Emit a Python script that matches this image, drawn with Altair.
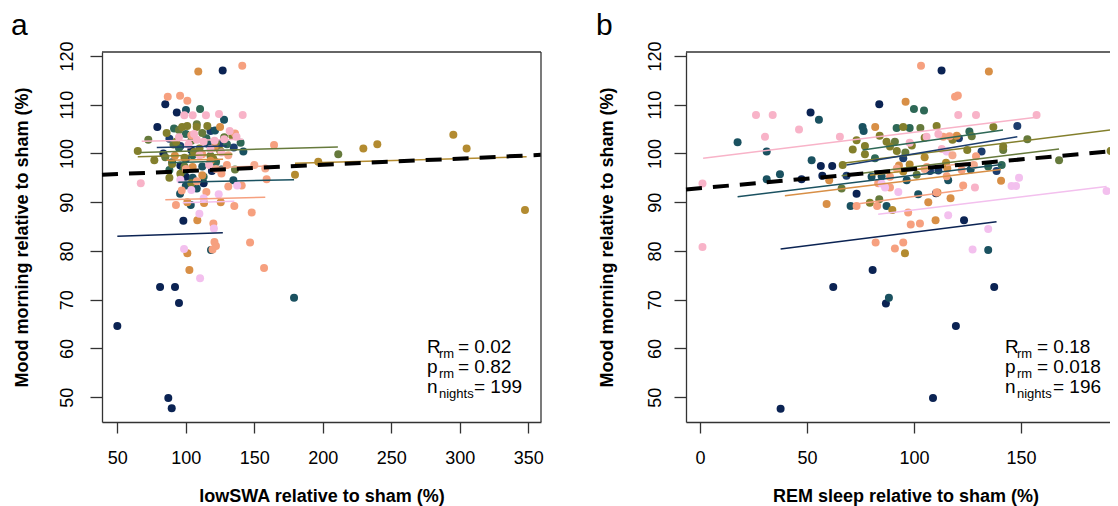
import altair as alt
import pandas as pd

FONT = "Liberation Sans"

# ---------------- subjects & colours ----------------
subjects = ["S01", "S02", "S03", "S04", "S05", "S06", "S07", "S08", "S09", "S10", "S11", "S12"]
subject_colors = ["#0b2353", "#1c3d6e", "#1a5160", "#2e6856", "#667a3c", "#837f2c",
                  "#b38b30", "#d88f46", "#f6a07f", "#f8b3c8", "#f3c0ee", "#f5a98e"]

# ---------------- panel a: lowSWA (%) vs mood (%) ----------------
a_S01_x = [50, 87.2, 89.7, 81.2, 92.1, 95, 85, 93.4, 126.9, 79.2, 83.6, 98.2, 96, 100, 119, 113, 104]
a_S01_y = [64.6, 49.8, 47.7, 72.6, 72.6, 69.3, 110.1, 108.4, 117, 105.4, 100, 86.2, 97.5, 95.2, 96.4, 93.9, 100.7]
a_S02_x = [96, 110, 125, 100, 135, 88, 118]
a_S02_y = [101.5, 100.3, 102.1, 98.8, 101.2, 103, 104.6]
a_S03_x = [100.1, 127.9, 121.3, 142, 95.8, 103.6, 179, 118.4, 105, 112, 126, 134.7, 90, 108, 100, 116]
a_S03_y = [108.9, 106.9, 104.7, 100.4, 91.7, 89.4, 70.4, 80.2, 95, 97.3, 96.7, 94.5, 98.2, 92.8, 93.4, 102]
a_S04_x = [110.4, 91.4, 100, 115, 130, 105, 122, 95, 140, 88, 98, 113]
a_S04_y = [109.1, 105.1, 104, 103.1, 101.9, 99.6, 98.2, 101.1, 102.2, 96.6, 96.4, 95.2]
a_S05_x = [211.3, 72.6, 135.9, 91, 104, 118, 112, 99, 128, 85, 95, 108, 122]
a_S05_y = [99.8, 102.8, 96.7, 101.8, 102.6, 99.5, 104.2, 97.3, 103.3, 99.2, 104.8, 106, 102.2]
a_S06_x = [97.3, 101, 107.9, 115.7, 64.9, 77, 90, 96, 104, 120, 110, 134, 125, 86, 93, 106, 99, 88]
a_S06_y = [105.4, 105.6, 105.4, 105.6, 100.5, 98.6, 97.8, 95.8, 93.9, 98.9, 101, 103.6, 100.6, 104.2, 102.4, 100.3, 99.1, 95]
a_S07_x = [179.7, 196.7, 229.6, 239.8, 295.3, 305, 347.6]
a_S07_y = [95.6, 98.3, 101, 101.9, 103.8, 101, 88.4]
a_S08_x = [109.1, 125, 113.3, 108.4, 101.1, 125.5, 101.1, 102.6, 92, 105, 118, 121, 112]
a_S08_y = [116.8, 105.4, 89.8, 86.3, 90, 90, 79.5, 76.1, 99.5, 97.2, 98.5, 101.2, 95.5]
a_S09_x = [141.2, 86.8, 95.8, 101.1, 135.9, 164.4, 159, 140.8, 92.8, 135.4, 148.1, 120.1, 146.9,
           120.9, 122, 119.5, 157.1, 100, 108, 115, 126, 131, 97, 112, 104, 130]
a_S09_y = [118, 111.6, 111.8, 110.8, 104.1, 101.7, 94.7, 93.4, 89.4, 89.2, 87.9, 85.6, 81.7,
           81.8, 81, 80.3, 76.5, 96.8, 94.3, 92.1, 95.9, 93.2, 92.4, 99.8, 103.7, 97.6]
a_S10_x = [98.9, 105, 114.7, 124.2, 141.5, 67.1, 106, 113, 121, 128, 137, 118, 108,
           102, 110, 126, 132, 95, 117]
a_S10_y = [107.8, 107.8, 107.8, 108.1, 107.9, 93.9, 104, 102.4, 102.6, 102.9, 103.4, 100.9, 102.8,
           101.8, 99.6, 100.2, 104.6, 103.3, 97.6]
a_S11_x = [137.5, 109.9, 120.5, 98.7, 110.4, 104, 96, 113, 124]
a_S11_y = [93.4, 87.6, 84.6, 80.4, 74.4, 92.5, 94.6, 90.8, 91.6]
a_S12_x = [122, 131, 150, 158]
a_S12_y = [96.8, 99.6, 97.6, 96.9]

# per-subject fitted lines (repeated-measures correlation), panel a
a_line_subject = ["S10", "S05", "S02", "S06", "S07", "S08", "S04", "S12", "S03", "S09", "S11", "S01"]
a_line_x1 = [67.8, 66.6, 78.8, 64.9, 179.7, 86.0, 88.0, 120.0, 94.5, 85.0, 97.7, 50.0]
a_line_y1 = [102.5, 100.2, 101.2, 99.3, 98.0, 98.6, 98.1, 97.1, 94.1, 90.5, 89.9, 83.0]
a_line_x2 = [141.8, 211.0, 129.9, 134.0, 348.8, 127.2, 125.0, 159.0, 179.0, 158.0, 135.4, 127.0]
a_line_y2 = [102.9, 101.3, 101.5, 99.8, 99.3, 98.8, 98.4, 97.4, 94.6, 91.0, 90.2, 83.7]
a_fit_x = [38.8, 359.3]
a_fit_y = [95.6, 99.7]

# ---------------- panel b: REM sleep (%) vs mood (%) ----------------
b_S01_x = [37.7, 108.9, 119.6, 86.9, 62.3, 137.5, 80.7, 123.4, 73.2, 47.5, 57.2, 56.5, 61.8, 83.8, 112.9, 51.7, 110.3]
b_S01_y = [47.6, 49.8, 64.6, 69.2, 72.6, 72.6, 76.1, 86.3, 91.7, 94.7, 95.4, 97.4, 97.4, 110.1, 117, 108.4, 91.8]
b_S02_x = [148.3, 131.6, 138.6, 107.5, 111.4, 68.5, 121, 95]
b_S02_y = [105.6, 100.4, 96.4, 96.4, 96.5, 95.4, 103.1, 99]
b_S03_x = [17.6, 31.2, 31.2, 37.4, 55.6, 52.2, 70.4, 87.2, 88.3, 76, 76.5, 80.2, 84.9, 96.6, 102, 126.5, 116, 134.7]
b_S03_y = [102.3, 100.4, 94.7, 95.7, 106.9, 98.6, 89.2, 89.2, 70.4, 105.4, 104.6, 95.2, 95.3, 94.5, 91.6, 96.7, 94.5, 80.2]
b_S04_x = [91.9, 125.9, 98, 141, 134.7, 81.8, 100, 104.7]
b_S04_y = [105.2, 104.5, 105.2, 97.6, 97.3, 99, 109.1, 108.8]
b_S05_x = [83.8, 153, 167.8, 91.1, 141.7, 103, 66.2, 101.3, 96, 127]
b_S05_y = [90.6, 102.9, 98.6, 102.4, 100.7, 105.2, 92.8, 95.6, 100.2, 103.5]
b_S06_x = [95, 110.6, 73.2, 71.4, 77.1, 77.1, 87.2, 88.8, 66.7, 79.4, 137.1, 124.9, 141.7, 191.9, 92, 99,
           84, 105, 118]
b_S06_y = [105.4, 105.6, 102.7, 100.8, 101.5, 99.8, 102.4, 101.4, 97.6, 89.9, 105.4, 100.7, 101.4, 100.5, 100.5, 101.6,
           103.6, 103.2, 102.8]
b_S07_x = [89.9, 95.8, 95, 105, 115, 98]
b_S07_y = [88.4, 79.5, 96.3, 99.2, 98.1, 97.7]
b_S08_x = [96.1, 135, 81.9, 60.4, 59.2, 110.1, 106.7, 111, 120, 115.6, 140.7, 117.1, 93]
b_S08_y = [110.6, 116.8, 105.4, 94.5, 89.6, 86.3, 90, 92, 103.6, 96.9, 94.4, 90.8, 97.5]
b_S09_x = [103.3, 119.2, 120.5, 73.2, 82.8, 97.3, 98.5, 102.8, 82.1, 95, 91.1, 83.3, 88.8, 88.8,
           115.3, 113.7, 116.6, 122.3, 123, 110.5, 106, 129]
b_S09_y = [118, 111.6, 111.9, 89.2, 89.2, 87.9, 85.4, 85.6, 81.7, 81.7, 80.5, 93.9, 95.2, 93,
           95.3, 103.4, 103.5, 96.6, 93.4, 92, 97.2, 99.4]
b_S10_x = [26.2, 34, 46.3, 30.4, 65.4, 1.2, 1.2, 105.9, 111.4, 120.7, 129, 157.3, 128.5, 98, 113]
b_S10_y = [107.9, 107.9, 104.9, 103.4, 103.4, 93.8, 80.8, 103.4, 104, 107.9, 107.9, 107.9, 93, 102.2, 100.9]
b_S11_x = [92.7, 84.9, 86.5, 115.3, 149.1, 145.6, 147.7, 190, 116, 134.7, 127.4]
b_S11_y = [92.1, 93.8, 93, 100.4, 95, 93.3, 93.3, 92.3, 87.3, 84.5, 80.3]
b_S12_x = [105, 118, 128, 92]
b_S12_y = [96.8, 99.6, 97.6, 96.9]

b_line_subject = ["S10", "S06", "S04", "S02", "S05", "S12", "S07", "S03", "S08", "S09", "S11", "S01"]
b_line_x1 = [1.5, 66.7, 76.0, 68.5, 66.2, 92.0, 79.5, 17.6, 39.7, 73.2, 83.3, 37.7]
b_line_y1 = [99.0, 98.0, 100.7, 97.6, 95.4, 96.3, 95.5, 91.1, 91.3, 89.6, 87.5, 80.4]
b_line_x2 = [157.3, 191.9, 141.6, 148.3, 167.8, 128.0, 115.0, 141.0, 140.7, 123.0, 190.0, 138.6]
b_line_y2 = [107.4, 104.8, 104.8, 103.4, 100.9, 98.2, 97.4, 97.7, 96.7, 92.5, 93.2, 86.0]
b_fit_x = [-6.5, 191.6]
b_fit_y = [92.6, 100.4]

y_ticks = [50, 60, 70, 80, 90, 100, 110, 120]
a_x_ticks = [50, 100, 150, 200, 250, 300, 350]
b_x_ticks = [0, 50, 100, 150]

# ---------------- layout (pixels inside plot area) ----------------
W, H = 1008, 370
A_RANGE = [0, 439]
B_RANGE = [584, 1008]
XA_DOMAIN = [38.8, 359.3]
XB_DOMAIN = [-6.5, 191.6]
Y_DOMAIN = [44.9, 120.8]


def points_frame(prefix):
    rows = []
    g = globals()
    for s in subjects:
        xs, ys = g[f"{prefix}_{s}_x"], g[f"{prefix}_{s}_y"]
        for x, y in zip(xs, ys):
            rows.append({"subject": s, "x": x, "mood": y})
    return pd.DataFrame(rows)


color_scale = alt.Scale(domain=subjects, range=subject_colors)
dummy = pd.DataFrame({"k": [0]})


def txt(s, x, y, size, weight="normal"):
    return alt.Chart(dummy).mark_text(
        text=s, fontSize=size, font=FONT, align="left", baseline="alphabetic",
        color="black", fontWeight=weight
    ).encode(x=alt.value(x), y=alt.value(y))


def stat_block(x0, xsub, xeq_r, xeq_n, r, p, n):
    rows = []
    for i, (main, sub, val, xeq) in enumerate([("R", "rm", f"= {r}", xeq_r),
                                               ("p", "rm", f"= {p}", xeq_r),
                                               ("n", "nights", f"= {n}", xeq_n)]):
        base = 301 + 20 * i
        rows.append(txt(main, x0, base, 19))
        rows.append(txt(sub, xsub, base + 5, 13))
        rows.append(txt(val, xeq, base, 19))
    return rows


def panel(prefix, lines, fit, xdomain, xrange, xticks, xtitle, offset, ytitle_x, xtitle_x, ylabpad):
    sx = alt.Scale(domain=xdomain, range=xrange, nice=False, zero=False)
    sy = alt.Scale(domain=Y_DOMAIN, nice=False, zero=False)
    xkw = dict(orient="bottom", values=xticks, title=xtitle, grid=False, offset=0,
               tickSize=11, labelPadding=16, labelFontSize=18, labelFont=FONT,
               titleFont=FONT, titleFontSize=18, titleFontWeight="bold",
               titleBaseline="alphabetic", titleY=79, titleColor="black", labelColor="black",
               domainColor="#333", tickColor="#333", domainWidth=1.3, tickWidth=1.3)
    if xtitle_x is not None:
        xkw["titleX"] = xtitle_x
    ax_x = alt.Axis(**xkw)
    ax_y = alt.Axis(orient="left", values=y_ticks, title="Mood morning relative to sham (%)",
                    grid=False, offset=offset, tickSize=12, labelPadding=ylabpad,
                    labelAngle=270, labelAlign="center", labelBaseline="bottom",
                    labelFontSize=18, labelFont=FONT, titleFont=FONT, titleFontSize=18,
                    titleFontWeight="bold", titleAngle=270, titleAlign="center",
                    titleBaseline="middle", titleX=ytitle_x, titleY=H / 2,
                    titleColor="black", labelColor="black",
                    domainColor="#333", tickColor="#333", domainWidth=1.3, tickWidth=1.3)

    pts = alt.Chart(points_frame(prefix)).mark_circle(size=64, opacity=1).encode(
        x=alt.X("x:Q", scale=sx, axis=ax_x),
        y=alt.Y("mood:Q", scale=sy, axis=ax_y),
        color=alt.Color("subject:N", scale=color_scale, legend=None),
    )
    subj, x1, y1, x2, y2 = lines
    ldf = pd.DataFrame({"subject": subj, "x1": x1, "y1": y1, "x2": x2, "y2": y2})
    seg = alt.Chart(ldf).mark_rule(strokeWidth=1.5).encode(
        x=alt.X("x1:Q", scale=sx, axis=ax_x), x2="x2:Q",
        y=alt.Y("y1:Q", scale=sy, axis=ax_y), y2="y2:Q",
        color=alt.Color("subject:N", scale=color_scale, legend=None),
    )
    fdf = pd.DataFrame({"x1": [fit[0][0]], "x2": [fit[0][1]], "y1": [fit[1][0]], "y2": [fit[1][1]]})
    fitl = alt.Chart(fdf).mark_rule(strokeWidth=4, strokeDash=[16, 11], color="black").encode(
        x=alt.X("x1:Q", scale=sx, axis=ax_x), x2="x2:Q",
        y=alt.Y("y1:Q", scale=sy, axis=ax_y), y2="y2:Q",
    )
    return [pts, seg, fitl]


layers_a = panel("a", (a_line_subject, a_line_x1, a_line_y1, a_line_x2, a_line_y2),
                 (a_fit_x, a_fit_y), XA_DOMAIN, A_RANGE, a_x_ticks,
                 "lowSWA relative to sham (%)", 0, -80, None, 14)
layers_b = panel("b", (b_line_subject, b_line_x1, b_line_y1, b_line_x2, b_line_y2),
                 (b_fit_x, b_fit_y), XB_DOMAIN, B_RANGE, b_x_ticks,
                 "REM sleep relative to sham (%)", -B_RANGE[0], -79, 803.5, 10)

frame = [
    alt.Chart(dummy).mark_rule(color="#333", strokeWidth=1.3).encode(
        x=alt.value(A_RANGE[0]), x2=alt.value(A_RANGE[1]), y=alt.value(0)),
    alt.Chart(dummy).mark_rule(color="#333", strokeWidth=1.3).encode(
        x=alt.value(A_RANGE[1]), y=alt.value(0), y2=alt.value(H)),
    alt.Chart(dummy).mark_rule(color="#333", strokeWidth=1.3).encode(
        x=alt.value(B_RANGE[0]), x2=alt.value(B_RANGE[1]), y=alt.value(0)),
]

letters = [txt("a", -91, -17, 30), txt("b", 494, -17, 30)]
stats = stat_block(325, 337, 356, 372, "0.02", "0.82", "199") + \
    stat_block(903, 915, 935, 951, "0.18", "0.018", "196")

panel_a = alt.layer(*layers_a)
panel_b = alt.layer(*layers_b)
deco = alt.layer(*(frame + letters + stats))

chart = alt.layer(panel_a, panel_b, deco).resolve_scale(
    x="independent", y="independent", color="shared"
).resolve_axis(x="independent", y="independent").properties(
    width=W, height=H,
    autosize=alt.AutoSizeParams(type="none"),
    padding={"left": 94, "top": 44, "right": 0, "bottom": 84},
    background="white",
).configure_view(stroke=None)

chart.save("out.html", embed_options={"renderer": "svg", "actions": False})
